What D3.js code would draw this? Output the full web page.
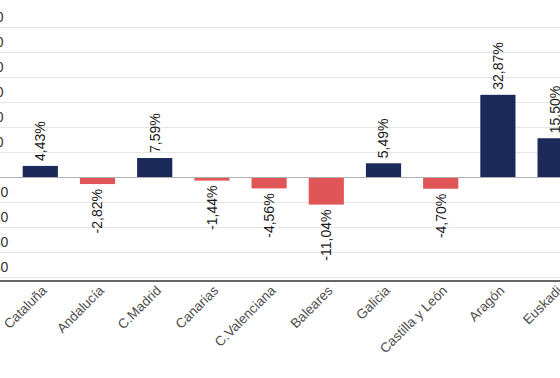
<!DOCTYPE html>
<html lang="es">
<head>
    <meta charset="UTF-8">
    <title>Variación por comunidad</title>
    <style>
        body { margin: 0; background: #fff; }
        svg { display: block; font-family: "Liberation Sans", Arial, sans-serif; }
    </style>
</head>
<body>
    <svg id="chart"></svg>

    <script src="https://d3js.org/d3.v7.min.js"></script>
    <script>
        const regions = ['Cataluña', 'Andalucía', 'C.Madrid', 'Canarias', 'C.Valenciana', 'Baleares', 'Galicia', 'Castilla y León', 'Aragón', 'Euskadi']
        const values = [4.43, -2.82, 7.59, -1.44, -4.56, -11.04, 5.49, -4.70, 32.87, 15.50]
        const yTicks = [-40, -30, -20, -10, 0, 10, 20, 30, 40, 50, 60]

        function render() {
            const width = 560, height = 378
            const svg = d3.select('#chart').attr('width', width).attr('height', height)

            const data = regions.map((r, i) => ({ region: r, value: values[i] }))

            // escala x: las barras siguen fuera del cuadro por la derecha
            const x = d3.scaleBand()
                .domain(regions)
                .range([11.7, 583.7])
                .paddingInner(0.385)
                .paddingOuter(0.1925)

            const y = d3.scaleLinear()
                .domain([-41.6, 70])
                .range([281, 2])

            // rejilla
            svg.append('g')
                .selectAll('line')
                .data(yTicks.filter(d => d !== 0))
                .join('line')
                .attr('x1', 0).attr('x2', width)
                .attr('y1', d => y(d) + 0.5).attr('y2', d => y(d) + 0.5)
                .attr('stroke', '#e6e6e6')

            // etiquetas del eje y (alineadas a la izquierda, recortadas)
            svg.append('g')
                .selectAll('text')
                .data(yTicks)
                .join('text')
                .attr('x', -12)
                .attr('y', d => y(d) - 5)
                .attr('font-size', 14)
                .attr('fill', '#333')
                .text(d => d)

            // barras
            svg.append('g')
                .selectAll('rect')
                .data(data)
                .join('rect')
                .attr('x', d => x(d.region))
                .attr('y', d => y(Math.max(0, d.value)))
                .attr('width', x.bandwidth())
                .attr('height', d => Math.abs(y(d.value) - y(0)))
                .attr('fill', d => d.value >= 0 ? '#1c2a5a' : '#e05556')

            // línea cero
            svg.append('line')
                .attr('x1', 0).attr('x2', width)
                .attr('y1', y(0) + 0.5).attr('y2', y(0) + 0.5)
                .attr('stroke', '#b0b0b0')

            // línea base
            svg.append('line')
                .attr('x1', 0).attr('x2', width)
                .attr('y1', y.range()[0]).attr('y2', y.range()[0])
                .attr('stroke', '#666')
                .attr('stroke-width', 2)

            // valores
            svg.append('g')
                .selectAll('text')
                .data(data)
                .join('text')
                .attr('transform', d => {
                    const cx = x(d.region) + x.bandwidth() / 2
                    const yy = d.value >= 0 ? y(d.value) - 5 : y(d.value) + 5
                    return `translate(${cx},${yy}) rotate(-90)`
                })
                .attr('text-anchor', d => d.value >= 0 ? 'start' : 'end')
                .attr('dy', '0.35em')
                .attr('font-size', 14)
                .attr('fill', '#1a1a1a')
                .text(d => d.value.toFixed(2).replace('.', ',') + '%')

            // categorías
            svg.append('g')
                .selectAll('text')
                .data(regions)
                .join('text')
                .attr('transform', d => `translate(${x(d) + x.bandwidth() / 2 + 4},${288}) rotate(-45)`)
                .attr('text-anchor', 'end')
                .attr('dy', '0.35em')
                .attr('font-size', 13.5)
                .attr('fill', '#4d4d4d')
                .text(d => d)
        }

        render()
    </script>
</body>
</html>
